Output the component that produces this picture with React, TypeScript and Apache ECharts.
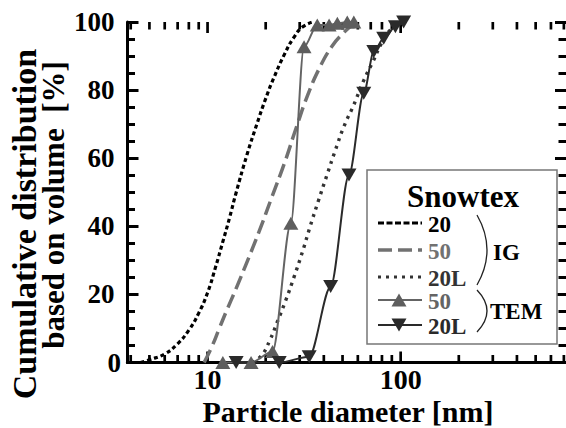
import React, { useEffect, useRef } from "react";
import * as echarts from "echarts";

const FONT = "'Liberation Serif', 'Times New Roman', serif";

// IG "20" (black short dash)
const ig20D = [4.5, 5, 6, 7, 8, 9, 10, 11, 12, 13, 14, 16, 18, 20, 22, 25, 28, 31, 35];
const ig20V = [0, 0.8, 2.5, 5.5, 9.5, 14.5, 20.5, 28, 35.5, 42.5, 49.5, 61, 70, 77.5, 83.5, 90.5, 95.5, 98.5, 100];
// IG "50" (gray long dash)
const ig50D = [9.6, 10.5, 11.5, 12.5, 14, 16, 18.5, 21.5, 25, 29, 33, 38, 44, 50, 57, 62];
const ig50V = [0, 4.5, 10, 15, 21.5, 29.5, 38.5, 48.5, 58.5, 69.5, 78.5, 86.5, 92.8, 96.5, 99.3, 100];
// IG "20L" (dark dotted)
const ig20LD = [17, 19, 21, 23, 25.5, 28, 31, 34, 37.5, 41.5, 46, 51, 57, 64, 72, 80, 88, 98, 105];
const ig20LV = [0, 2, 6.5, 12, 18.5, 25, 32.5, 40, 47.5, 55, 62.5, 69.5, 75.5, 82.5, 88.5, 94, 97.5, 99.5, 100];
// TEM "50" (gray, up triangles)
const tem50D = [12.0, 16.8, 21.7, 27.0, 31.6, 37.0, 42.6, 47.0, 52.9, 57.2];
const tem50V = [0, 0, 3.2, 40.9, 92.7, 99.1, 99.1, 99.6, 100, 100];
// TEM "20L" (dark, down triangles)
const tem20LD = [14.06, 23.5, 33.6, 43.4, 54.0, 64.4, 72.6, 81.7, 93.9, 103.6];
const tem20LV = [0, 0, 1.7, 22.3, 55.1, 79.1, 91.3, 95.2, 98.6, 100];

const xMajorTicks = [10, 100];
const xMinorTicks = [4, 5, 6, 7, 8, 9, 20, 30, 40, 50, 60, 70, 80, 90, 200, 300, 400, 500, 600, 700];
const yTicks = [0, 20, 40, 60, 80, 100];

const xTitle = "Particle diameter [nm]";
const yTitle1 = "Cumulative distribution";
const yTitle2 = "based on volume  [%]";
const legendTitle = "Snowtex";
const legendLabels = ["20", "50", "20L", "50", "20L"];
const groupLabels = ["IG", "TEM"];

const pairs = (d: number[], v: number[]) => d.map((x, i) => [x, v[i]]);

const C_BLACK = "#000000";
const C_GRAY = "#717171";
const C_DARK = "#333333";
const C_TGRAY = "#646464";
const C_TDARK = "#2a2a2a";

export default function App() {
  const ref = useRef<HTMLDivElement>(null);
  useEffect(() => {
    if (!ref.current) return;
    const chart = echarts.init(ref.current, undefined, { renderer: "svg" });
    const gl = 127.5, gt = 22, gw = 440.5, gh = 340.5;
    const tickData = [
      ...xMajorTicks.map((v) => [v, 0, 1]),
      ...xMinorTicks.map((v) => [v, 0, 0]),
    ];
    const rowsY = [223, 250, 277, 300, 325];
    const lx1 = 378, lx2 = 422;
    const legendLineStyles: any[] = [
      { stroke: C_BLACK, lineWidth: 3, lineDash: [6, 2.5] },
      { stroke: C_GRAY, lineWidth: 3.5, lineDash: [14, 6] },
      { stroke: C_DARK, lineWidth: 3, lineDash: [3, 5] },
      { stroke: C_TGRAY, lineWidth: 2 },
      { stroke: C_TDARK, lineWidth: 2 },
    ];
    const legendTextColors = [C_BLACK, C_GRAY, C_DARK, C_TGRAY, C_TDARK];
    const txt = (x: number, y: number, text: string, size: number, fill: string, align: string, extra: any = {}) => ({
      type: "text", x, y, ...extra,
      style: { text, fontFamily: FONT, fontWeight: "bold", fontSize: size, fill, textAlign: align, textVerticalAlign: "middle" },
    });
    const graphics: any[] = [
      txt(24, 224, yTitle1, 34, "#000", "center", { rotation: Math.PI / 2 }),
      txt(53, 205, yTitle2, 31, "#000", "center", { rotation: Math.PI / 2 }),
      txt(348, 411, xTitle, 30, "#000", "center"),
      {
        type: "rect", z: 10, shape: { x: 367, y: 170, width: 190, height: 174 },
        style: { fill: "#fff", stroke: "#777", lineWidth: 1.5 },
      },
      txt(463, 196, legendTitle, 31, "#000", "center", { z: 11 }),
    ];
    rowsY.forEach((ry, i) => {
      graphics.push({
        type: "line", z: 11, shape: { x1: lx1, y1: ry, x2: lx2, y2: ry },
        style: legendLineStyles[i],
      });
      graphics.push(txt(428, ry + 1, legendLabels[i], 23, legendTextColors[i], "left", { z: 11 }));
    });
    graphics.push({
      type: "polygon", z: 12,
      shape: { points: [[391.5, rowsY[3] + 6.5], [406.5, rowsY[3] + 6.5], [399, rowsY[3] - 6.5]] },
      style: { fill: "#5e5e5e" },
    });
    graphics.push({
      type: "polygon", z: 12,
      shape: { points: [[391.5, rowsY[4] - 6.5], [406.5, rowsY[4] - 6.5], [399, rowsY[4] + 6.5]] },
      style: { fill: C_TDARK },
    });
    graphics.push({
      type: "bezierCurve", z: 11,
      shape: { x1: 477, y1: 215, cpx1: 497, cpy1: 250, x2: 477, y2: 285 },
      style: { stroke: "#222", lineWidth: 1.3, fill: "none" },
    });
    graphics.push({
      type: "bezierCurve", z: 11,
      shape: { x1: 477, y1: 290, cpx1: 497, cpy1: 311, x2: 477, y2: 332 },
      style: { stroke: "#222", lineWidth: 1.3, fill: "none" },
    });
    graphics.push(txt(493, 252, groupLabels[0], 23, "#000", "left", { z: 11 }));
    graphics.push(txt(490, 311, groupLabels[1], 23, "#000", "left", { z: 11 }));

    const xCommon = {
      type: "log" as const,
      min: 3.85,
      max: 718,
      logBase: 10,
      splitLine: { show: false },
      axisTick: { show: false },
      minorTick: { show: false },
    };
    const yCommon = {
      type: "value" as const,
      min: yTicks[0],
      max: yTicks[yTicks.length - 1],
      interval: yTicks[1] - yTicks[0],
      splitLine: { show: false },
      axisTick: { show: true, inside: true, length: 11, lineStyle: { color: "#000", width: 3 } },
      minorTick: { show: true, splitNumber: 4, length: 7.5, lineStyle: { color: "#000", width: 3 } },
    };

    chart.setOption({
      animation: false,
      grid: { left: gl, top: gt, width: gw, height: gh, containLabel: false },
      xAxis: [
        {
          ...xCommon,
          position: "bottom",
          axisLine: { show: true, lineStyle: { color: "#000", width: 3 } },
          axisLabel: {
            show: true,
            margin: 3,
            color: "#000",
            fontFamily: FONT,
            fontWeight: "bold",
            fontSize: 28,
            showMinLabel: false,
            showMaxLabel: false,
            formatter: (v: number) => (xMajorTicks.some((m) => Math.abs(m - v) < 1e-6) ? String(v) : ""),
          },
        },
        {
          ...xCommon,
          position: "top",
          axisLine: { show: true, lineStyle: { color: "#000", width: 3 } },
          axisLabel: { show: false },
        },
      ],
      yAxis: [
        {
          ...yCommon,
          position: "left",
          axisLine: { show: true, lineStyle: { color: "#000", width: 3 } },
          axisLabel: {
            show: true, margin: 13, color: "#000", fontFamily: FONT, fontWeight: "bold", fontSize: 27,
            formatter: (v: number) => (v === 0 ? "{z|0}" : String(v)),
            rich: { z: { fontFamily: FONT, fontWeight: "bold", fontSize: 27, color: "#000", width: 7, align: "left" } },
          },
        },
        {
          ...yCommon,
          position: "right",
          axisLine: { show: false },
          axisLabel: { show: false },
        },
      ],
      graphic: graphics,
      series: [
        {
          type: "custom",
          xAxisIndex: 0,
          yAxisIndex: 0,
          silent: true,
          z: 1,
          data: tickData,
          renderItem: (params: any, api: any) => {
            const cs = params.coordSys;
            const x = api.coord([api.value(0), 50])[0];
            const len = api.value(2) ? 11 : 7.5;
            const bottom = cs.y + cs.height;
            return {
              type: "group",
              children: [
                { type: "line", shape: { x1: x, y1: bottom, x2: x, y2: bottom - len }, style: { stroke: "#000", lineWidth: 2.7 } },
                { type: "line", shape: { x1: x, y1: cs.y, x2: x, y2: cs.y + len }, style: { stroke: "#000", lineWidth: 2.7 } },
              ],
            };
          },
        },
        {
          name: "IG 20", type: "line", data: pairs(ig20D, ig20V), symbol: "none",
          smooth: 0.5, z: 3,
          lineStyle: { color: C_BLACK, width: 3.2, type: [4, 3] },
        },
        {
          name: "IG 50", type: "line", data: pairs(ig50D, ig50V), symbol: "none",
          smooth: 0.5, z: 3,
          lineStyle: { color: C_GRAY, width: 3.5, type: [14, 6] },
        },
        {
          name: "IG 20L", type: "line", data: pairs(ig20LD, ig20LV), symbol: "none",
          smooth: 0.5, z: 3,
          lineStyle: { color: C_DARK, width: 3.4, type: [3, 5] },
        },
        {
          name: "TEM 50", type: "line", data: pairs(tem50D, tem50V), symbol: "triangle",
          symbolSize: [15, 13], smooth: 0.3, smoothMonotone: "x", clip: false, z: 4, showAllSymbol: true,
          lineStyle: { color: C_TGRAY, width: 2 },
          itemStyle: { color: "#5e5e5e" },
        },
        {
          name: "TEM 20L", type: "line", data: pairs(tem20LD, tem20LV), symbol: "triangle",
          symbolRotate: 180, symbolSize: [15, 13], smooth: 0.3, smoothMonotone: "x", clip: false, z: 4, showAllSymbol: true,
          lineStyle: { color: C_TDARK, width: 2 },
          itemStyle: { color: C_TDARK },
        },
      ],
    });
    return () => chart.dispose();
  }, []);
  return (
    <div
      ref={ref}
      style={{ position: "fixed", left: 0, top: 0, width: 566, height: 428, background: "#fff" }}
    />
  );
}
